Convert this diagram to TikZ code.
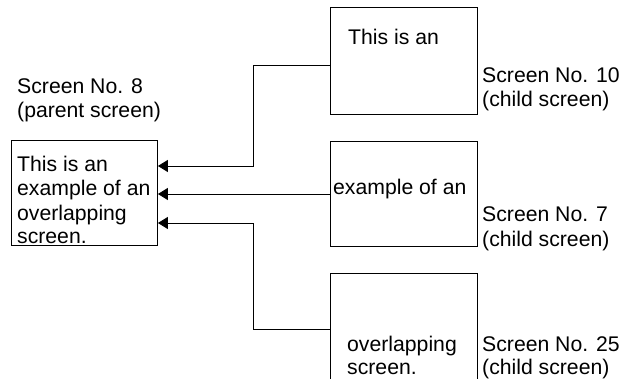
\documentclass[tikz,border=0pt]{standalone}
\usepackage{fontspec}
\setmainfont{Liberation Sans}
\usetikzlibrary{arrows.meta}
\begin{document}
\begin{tikzpicture}[x=1pt,y=-1pt,
  scr/.style={draw=black,line width=0.9pt,inner sep=0pt,anchor=north west},
  txt/.style={anchor=base west,inner sep=0pt,font=\fontsize{21.2}{25}\selectfont},
  conn/.style={draw=black,line width=0.9pt,-{Triangle[length=10pt,width=12pt]}}]
\useasboundingbox (0,0) rectangle (620,379);
% parent
\node[scr,minimum width=146pt,minimum height=105pt] (par) at (11,140) {};
\node[txt] (pl1) at (17,94) {Screen No. 8};
\node[txt] (pl2) at (17,118) {(parent screen)};
\node[txt] (pt1) at (17,172) {This is an};
\node[txt] (pt2) at (17,196) {example of an};
\node[txt] (pt3) at (17,220) {overlapping};
\node[txt] (pt4) at (17,243) {screen.};
% children
\node[scr,minimum width=147pt,minimum height=107pt] (c1) at (330,7) {};
\node[scr,minimum width=147pt,minimum height=105pt] (c2) at (330,141) {};
\node[scr,minimum width=147pt,minimum height=105.5pt] (c3) at (330,273) {};
\node[txt] (c1t) at (348,45) {This is an};
\node[txt] (c2t) at (333,195) {example of an};
\node[txt] (c3t1) at (347,351) {overlapping};
\node[txt] (c3t2) at (347,374) {screen.};
\node[txt] (l1a) at (482,83) {Screen No. 10};
\node[txt] (l1b) at (482,107) {(child screen)};
\node[txt] (l2a) at (482,222) {Screen No. 7};
\node[txt] (l2b) at (482,246) {(child screen)};
\node[txt] (l3a) at (482,351) {Screen No. 25};
\node[txt] (l3b) at (482,374) {(child screen)};
% connectors
\coordinate (j1) at (253,65);
\coordinate (j3) at (253,329);
\coordinate (p1) at (157,166);
\coordinate (p2) at (157,194);
\coordinate (p3) at (157,223);
\draw[conn] (c1.west |- j1) -- (j1) |- (par.east |- p1);
\draw[conn] (c2.west |- p2) -- (par.east |- p2);
\draw[conn] (c3.west |- j3) -- (j3) |- (par.east |- p3);
\end{tikzpicture}
\end{document}
